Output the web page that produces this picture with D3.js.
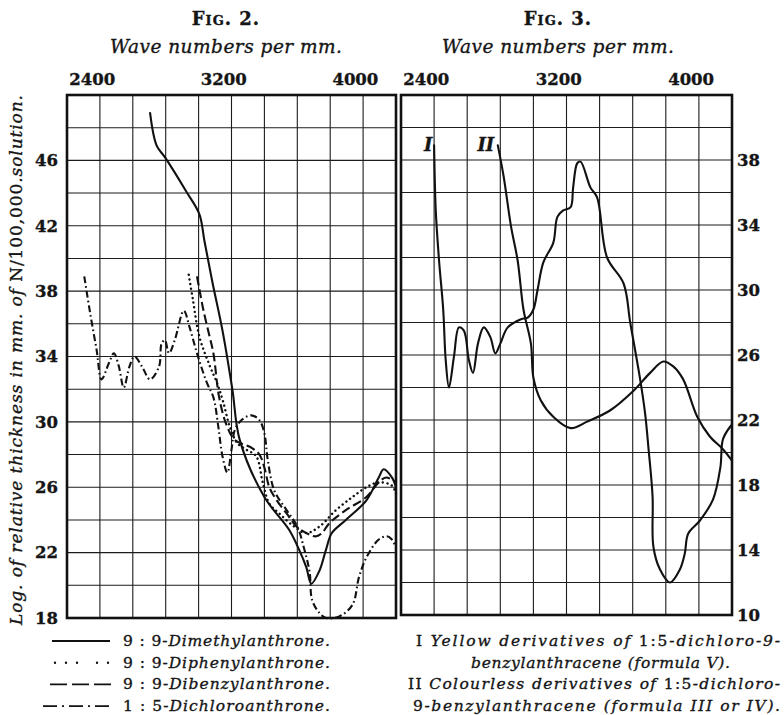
<!DOCTYPE html>
<html>
<head>
<meta charset="utf-8">
<script src="https://cdn.jsdelivr.net/npm/d3@7"></script>
<style>
  body { margin: 0; background: #fff; }
  svg text { font-family: "DejaVu Serif", serif; fill: #151515; stroke: #151515; stroke-width: 0.35px; }
</style>
</head>
<body>
<script>
// wave numbers per mm, log of relative thickness
const dimethyl = [[2755,48.9],[2795,46.9],[2845,46.2],[2975,44.1],[3055,42.7],[3085,41.1],[3135,38.5],
  [3195,35.6],[3255,32.0],[3300,28.9],[3450,25.4],[3600,23.4],[3660,22.2],[3705,21.1],[3735,20.1],
  [3785,20.9],[3825,22.2],[3860,23.2],[3945,24.0],[4070,25.2],[4145,26.6],[4175,27.1],[4225,26.6],[4250,26.0]];
const diphenyl = [[2990,39.0],[3015,37.5],[3055,35.2],[3115,33.5],[3165,32.3],[3200,31.2],[3240,29.7],
  [3285,28.7],[3340,28.3],[3400,27.9],[3440,26.3],[3480,25.0],[3540,24.4],[3630,23.6],[3705,23.2],
  [3785,23.6],[3885,24.6],[3985,25.4],[4070,26.0],[4145,26.3],[4225,26.1],[4250,25.6]];
const dibenzyl = [[3040,38.9],[3055,38.1],[3080,36.8],[3115,35.3],[3140,34.2],[3175,31.5],[3220,29.8],
  [3270,28.9],[3375,28.4],[3420,28.0],[3450,27.2],[3480,26.0],[3525,25.2],[3585,24.4],[3645,23.6],
  [3725,23.1],[3765,23.0],[3800,23.2],[3845,23.8],[3945,24.6],[4070,25.4],[4145,26.3],[4190,26.6],[4250,26.3]];
const dichloro = [[2355,38.9],[2390,36.7],[2430,34.4],[2460,32.6],[2505,33.6],[2535,34.2],[2565,33.4],
  [2595,32.1],[2630,33.4],[2660,34.0],[2705,33.4],[2755,32.6],[2810,33.4],[2825,34.8],[2845,35.0],
  [2870,34.2],[2905,35.0],[2960,36.8],[2995,35.8],[3040,34.2],[3100,32.4],[3140,31.5],[3170,29.7],
  [3195,27.9],[3225,26.9],[3250,28.3],[3270,29.5],[3310,30.1],[3370,30.4],[3420,30.1],[3450,29.3],
  [3470,27.7],[3510,25.8],[3585,24.6],[3650,23.6],[3690,22.3],[3725,20.8],[3740,19.1],[3785,18.3],
  [3825,18.0],[3905,18.1],[3985,18.8],[4025,20.5],[4070,21.7],[4145,22.8],[4195,23.0],[4225,22.8],[4250,22.3]];

const yellowI = [[2450,38.9],[2460,34.9],[2480,31.8],[2505,28.8],[2520,25.7],[2540,24.0],[2570,25.9],
  [2600,27.7],[2630,27.5],[2660,25.7],[2685,24.9],[2715,26.7],[2750,27.7],[2790,27.1],[2820,26.1],
  [2850,26.7],[2895,27.7],[2975,28.2],[3015,28.3],[3050,28.8],[3075,30.0],[3110,31.7],[3170,32.9],
  [3195,34.5],[3230,34.9],[3275,35.1],[3290,36.3],[3315,37.8],[3335,37.9],[3395,36.3],[3435,35.7],
  [3495,32.0],[3595,30.4],[3635,28.0],[3695,24.5],[3725,22.4],[3745,20.3],[3770,17.3],[3775,14.2],
  [3815,12.8],[3875,12.0],[3935,12.8],[3965,13.8],[3985,15.0],[4055,15.8],[4135,17.1],[4180,19.1],
  [4195,20.8],[4240,21.6],[4250,21.7]];
const colourlessII = [[2835,38.9],[2870,37.0],[2915,33.9],[2955,31.8],[2990,28.8],[3035,26.7],[3050,24.6],
  [3095,23.2],[3170,22.2],[3275,21.5],[3375,21.9],[3515,22.6],[3655,23.8],[3755,24.9],[3835,25.6],
  [3895,25.3],[3955,24.5],[4040,22.2],[4115,21.0],[4195,20.2],[4250,19.5]];

const xTickValues = [2400, 3200, 4000];
const fig2YTicks = [18, 22, 26, 30, 34, 38, 42, 46];
const fig3YTicks = [10, 14, 18, 22, 26, 30, 34, 38];

const svg = d3.select('body').append('svg')
  .attr('width', 784)
  .attr('height', 715);

const x2 = d3.scaleLinear().domain([2250, 4250]).range([67, 396]);
const y2 = d3.scaleLinear().domain([18, 50]).range([618, 95]);
const x3 = d3.scaleLinear().domain([2250, 4250]).range([401, 732]);
const y3 = d3.scaleLinear().domain([10, 42]).range([615, 95]);

const styles = {
  solid: { width: 2.1, dash: null, cap: 'round' },
  dotted: { width: 2.4, dash: '0.1 4.6', cap: 'round' },
  dashed: { width: 2.1, dash: '9 4', cap: 'butt' },
  dashdot: { width: 2.1, dash: '7 3 1.6 3', cap: 'butt' }
};

function styleTicks(sel) {
  sel.attr('font-family', '"DejaVu Serif", serif')
    .attr('font-weight', 'bold')
    .attr('font-size', 16.5)
    .attr('fill', '#151515');
}

function panel(x, y) {
  const g = svg.append('g');
  const [bottom, top] = y.range();
  const [left, right] = x.range();

  g.selectAll('line.vgrid')
    .data(d3.range(2450, 4250, 200))
    .enter().append('line')
    .attr('x1', d => x(d)).attr('x2', d => x(d))
    .attr('y1', top).attr('y2', bottom)
    .attr('stroke', '#1c1c1c').attr('stroke-width', 1.1);

  g.selectAll('line.hgrid')
    .data(d3.range(y.domain()[0] + 2, y.domain()[1], 2))
    .enter().append('line')
    .attr('x1', left).attr('x2', right)
    .attr('y1', d => y(d)).attr('y2', d => y(d))
    .attr('stroke', '#1c1c1c').attr('stroke-width', 1.1);

  // frame
  g.append('rect')
    .attr('x', left).attr('y', top)
    .attr('width', right - left).attr('height', bottom - top)
    .attr('fill', 'none').attr('stroke', '#111').attr('stroke-width', 2.6);

  // top wave-number labels
  g.append('g')
    .attr('transform', `translate(0,${top})`)
    .call(d3.axisTop(x).tickValues(xTickValues).tickSize(0).tickPadding(10).tickFormat(d3.format('d')))
    .call(a => a.select('.domain').remove())
    .selectAll('text')
    .call(styleTicks);

  return g;
}

function drawCurve(g, x, y, data, style) {
  const line = d3.line()
    .x(d => x(d[0]))
    .y(d => y(d[1]))
    .curve(d3.curveCatmullRom.alpha(0.5));
  const s = styles[style];
  g.append('path')
    .datum(data)
    .attr('d', line)
    .attr('fill', 'none')
    .attr('stroke', '#111')
    .attr('stroke-width', s.width)
    .attr('stroke-linecap', s.cap)
    .attr('stroke-linejoin', 'round')
    .attr('stroke-dasharray', s.dash);
}

// ------- Fig. 2 -------
const p2 = panel(x2, y2);
p2.append('g')
  .attr('transform', 'translate(67,0)')
  .call(d3.axisLeft(y2).tickValues(fig2YTicks).tickSize(0).tickPadding(9))
  .call(a => a.select('.domain').remove())
  .selectAll('text')
  .call(styleTicks);

drawCurve(p2, x2, y2, dichloro, 'dashdot');
drawCurve(p2, x2, y2, diphenyl, 'dotted');
drawCurve(p2, x2, y2, dibenzyl, 'dashed');
drawCurve(p2, x2, y2, dimethyl, 'solid');

// ------- Fig. 3 -------
const p3 = panel(x3, y3);
p3.append('g')
  .attr('transform', 'translate(732,0)')
  .call(d3.axisRight(y3).tickValues(fig3YTicks).tickSize(0).tickPadding(5))
  .call(a => a.select('.domain').remove())
  .selectAll('text')
  .call(styleTicks);

drawCurve(p3, x3, y3, yellowI, 'solid');
drawCurve(p3, x3, y3, colourlessII, 'solid');

// curve labels I and II at the starts of the curves
p3.append('text')
  .attr('x', x3(yellowI[0][0]) - 6).attr('y', y3(yellowI[0][1]) + 6)
  .attr('text-anchor', 'middle')
  .attr('font-style', 'italic').attr('font-weight', 'bold').attr('font-size', 18)
  .text('I');
p3.append('text')
  .attr('x', x3(colourlessII[0][0]) - 12).attr('y', y3(colourlessII[0][1]) + 6)
  .attr('text-anchor', 'middle')
  .attr('font-style', 'italic').attr('font-weight', 'bold').attr('font-size', 18)
  .text('II');

// ------- titles -------
function titles(cx, num) {
  svg.append('text')
    .attr('x', cx).attr('y', 25)
    .attr('text-anchor', 'middle')
    .attr('font-size', 18)
    .attr('font-weight', 'bold')
    .attr('letter-spacing', 1)
    .attr('font-variant', 'small-caps')
    .text(`Fig. ${num}.`);
  svg.append('text')
    .attr('x', cx - 116).attr('y', 53)
    .attr('font-size', 18.5)
    .attr('font-style', 'italic')
    .attr('textLength', 232)
    .attr('lengthAdjust', 'spacing')
    .text('Wave numbers per mm.');
}
titles(226, 2);
titles(558, 3);

// y axis title
const yt = svg.append('text')
  .attr('transform', 'translate(22,360) rotate(-90)')
  .attr('text-anchor', 'middle')
  .attr('font-size', 17)
  .attr('textLength', 530)
  .attr('lengthAdjust', 'spacing');
yt.append('tspan').attr('font-style', 'italic').text('Log. of relative thickness in mm. of ');
yt.append('tspan').text('N/100,000');
yt.append('tspan').attr('font-style', 'italic').text('.solution.');

// ------- left legend -------
const legendRows = [
  { style: 'solid', x1: 52, x2: 110, dash: null, pre: '9 : 9-', name: 'Dimethylanthrone.' },
  { style: 'dotted', x1: 55, x2: 110, dash: '0 11 0 11 0 20 0 11 0 40', pre: '9 : 9-', name: 'Diphenylanthrone.' },
  { style: 'dashed', x1: 50, x2: 112, dash: '17 5', pre: '9 : 9-', name: 'Dibenzylanthrone.' },
  { style: 'dashdot', x1: 43, x2: 110, dash: '14 5 2 5', pre: '1 : 5-', name: 'Dichloroanthrone.' }
];
const rowBase = 646, rowGap = 21.7;
const lg = svg.append('g');
legendRows.forEach((r, i) => {
  const yy = rowBase + i * rowGap;
  lg.append('line')
    .attr('x1', r.x1).attr('x2', r.x2)
    .attr('y1', yy - 5).attr('y2', yy - 5)
    .attr('stroke', '#111')
    .attr('stroke-width', r.style === 'dotted' ? 2.4 : 1.8)
    .attr('stroke-linecap', r.style === 'dotted' ? 'round' : 'butt')
    .attr('stroke-dasharray', r.dash);
  const t = lg.append('text').attr('x', 123).attr('y', yy)
    .attr('font-size', 15.5)
    .attr('textLength', 207)
    .attr('lengthAdjust', 'spacing');
  t.append('tspan').text(r.pre);
  t.append('tspan').attr('font-style', 'italic').text(r.name);
});

// ------- right legend -------
const rightRows = [
  { x: 416, len: 364, parts: [['I ', 0], ['Yellow derivatives of ', 1], ['1:5', 0], ['-dichloro-9-', 1]] },
  { x: 471, len: 259, parts: [['benzylanthracene (formula V).', 1]] },
  { x: 408, len: 372, parts: [['II ', 0], ['Colourless derivatives of ', 1], ['1:5', 0], ['-dichloro-', 1]] },
  { x: 413, len: 367, parts: [['9', 0], ['-benzylanthracene (formula ', 1], ['III', 1], [' or ', 1], ['IV', 1], [').', 1]] }
];
rightRows.forEach((r, i) => {
  const t = svg.append('text')
    .attr('x', r.x).attr('y', rowBase + i * rowGap)
    .attr('font-size', 15.5)
    .attr('textLength', r.len)
    .attr('lengthAdjust', 'spacing');
  r.parts.forEach(p => {
    t.append('tspan').attr('font-style', p[1] ? 'italic' : 'normal').text(p[0]);
  });
});
</script>
</body>
</html>
